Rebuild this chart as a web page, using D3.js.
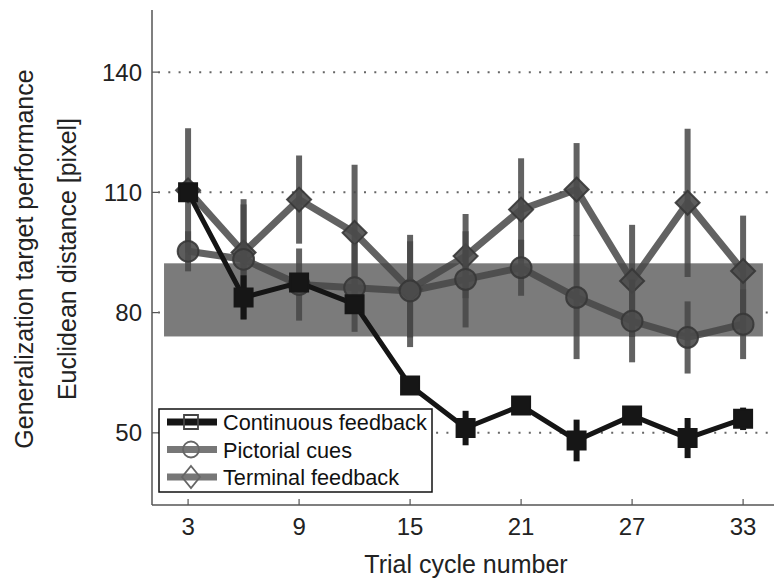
<!doctype html>
<html lang="en">
<head>
    <meta charset="UTF-8">
    <title>Generalization target performance</title>
    <style>
        html, body { margin: 0; padding: 0; background: #fff; }
        svg { display: block; font-family: "Liberation Sans", Arial, sans-serif; }
    </style>
</head>
<body>
<svg id="chart" width="774" height="580"></svg>

<script src="https://cdn.jsdelivr.net/npm/d3@7"></script>
<script>
  // values
  const cycles = [3, 6, 9, 12, 15, 18, 21, 24, 27, 30, 33]
  const xTicks = [3, 9, 15, 21, 27, 33]
  const yTicks = [50, 80, 110, 140]

  const continuousMean = [110, 83.8, 87.5, 82.1, 61.8, 51.2, 56.8, 48.1, 54.3, 48.7, 53.5]
  const continuousErr  = [1.5, 5.5, 2, 2, 1.5, 4.3, 2, 5.2, 2, 5, 2.8]
  const pictorialMean  = [95.3, 93.3, 87, 86.2, 85.4, 88.3, 91.2, 83.8, 77.9, 73.8, 77.1]
  const pictorialErr   = [5, 15, 9, 11, 14, 12, 7, 15.4, 10.3, 9, 8.7]
  const terminalMean   = [110.5, 95, 108.2, 99.9, 85.8, 94.1, 105.7, 110.7, 87.9, 107.4, 90.4]
  const terminalErr    = [15.5, 12, 11, 17, 12, 10.5, 12.8, 11.6, 14, 18.5, 13.8]
  const bandRange = [74.05, 92.3]      // shaded reference band
  const bandCycles = [1.7, 34.07]

  const seriesNames = ['Continuous feedback', 'Pictorial cues', 'Terminal feedback']

  const svg = d3.select('#chart')
  const x = d3.scaleLinear().domain([1.05, 34.67]).range([152, 774])
  const y = d3.scaleLinear().domain([32, 155.5]).range([505, 10])

  const grayLine = 'rgba(70,70,70,0.85)'

  // dotted grid
  svg.append('g').selectAll('line').data(yTicks).join('line')
    .attr('x1', x.range()[0] + 6).attr('x2', 774)
    .attr('y1', d => y(d)).attr('y2', d => y(d))
    .attr('stroke', '#666').attr('stroke-width', 2)
    .attr('stroke-dasharray', '2,8.3')

  // band
  svg.append('rect')
    .attr('x', x(bandCycles[0])).attr('width', x(bandCycles[1]) - x(bandCycles[0]))
    .attr('y', y(bandRange[1])).attr('height', y(bandRange[0]) - y(bandRange[1]))
    .attr('fill', '#7b7b7b')

  function drawSeries(mean, err, color, lineW, marker) {
    const g = svg.append('g')
    const pts = cycles.map((c, i) => ({ c, m: mean[i], e: err[i] }))
    g.selectAll('.err').data(pts).join('line')
      .attr('x1', d => x(d.c)).attr('x2', d => x(d.c))
      .attr('y1', d => y(d.m - d.e)).attr('y2', d => y(d.m + d.e))
      .attr('stroke', color).attr('stroke-width', 6)
    g.append('path')
      .attr('d', d3.line().x(d => x(d.c)).y(d => y(d.m))(pts))
      .attr('fill', 'none').attr('stroke', color).attr('stroke-width', lineW)
      .attr('stroke-linejoin', 'round')
    g.selectAll('.mk').data(pts).join('path')
      .attr('transform', d => `translate(${x(d.c)},${y(d.m)})`)
      .attr('d', marker.path)
      .attr('fill', marker.fill).attr('stroke', marker.stroke).attr('stroke-width', 2)
  }

  const circleMk = { path: d3.symbol(d3.symbolCircle, 340)(), fill: 'rgba(75,75,75,0.9)', stroke: 'rgba(55,55,55,0.9)' }
  const diamondMk = { path: 'M0,-12L12,0L0,12L-12,0Z', fill: 'rgba(75,75,75,0.9)', stroke: 'rgba(55,55,55,0.9)' }
  const squareMk = { path: 'M-9,-9H9V9H-9Z', fill: '#161616', stroke: '#161616' }

  drawSeries(terminalMean, terminalErr, grayLine, 7, diamondMk)
  drawSeries(pictorialMean, pictorialErr, grayLine, 7, circleMk)
  drawSeries(continuousMean, continuousErr, '#151515', 5, squareMk)

  // axes
  const axisColor = '#555'
  svg.append('line').attr('x1', 152).attr('x2', 152).attr('y1', 10).attr('y2', 505)
    .attr('stroke', axisColor).attr('stroke-width', 1.5)
  svg.append('line').attr('x1', 152).attr('x2', 774).attr('y1', 505).attr('y2', 505)
    .attr('stroke', axisColor).attr('stroke-width', 1.5)

  svg.append('g').selectAll('line').data(xTicks).join('line')
    .attr('x1', d => x(d)).attr('x2', d => x(d)).attr('y1', 505).attr('y2', 499)
    .attr('stroke', axisColor).attr('stroke-width', 1.2)
  svg.append('g').selectAll('line').data(yTicks).join('line')
    .attr('x1', 152).attr('x2', 158).attr('y1', d => y(d)).attr('y2', d => y(d))
    .attr('stroke', axisColor).attr('stroke-width', 1.2)

  svg.append('g').selectAll('text').data(xTicks).join('text')
    .attr('x', d => x(d)).attr('y', 535).attr('text-anchor', 'middle')
    .attr('font-size', 24).attr('fill', '#222').text(d => d)
  svg.append('g').selectAll('text').data(yTicks).join('text')
    .attr('x', 142).attr('y', d => y(d) + 8.5).attr('text-anchor', 'end')
    .attr('font-size', 24).attr('fill', '#222').text(d => d)

  svg.append('text').attr('x', 466).attr('y', 573).attr('text-anchor', 'middle')
    .attr('font-size', 25).attr('fill', '#222').text('Trial cycle number')
  svg.append('text').attr('transform', 'translate(33,259) rotate(-90)').attr('text-anchor', 'middle')
    .attr('font-size', 25).attr('fill', '#222').text('Generalization target performance')
  svg.append('text').attr('transform', 'translate(76,259) rotate(-90)').attr('text-anchor', 'middle')
    .attr('font-size', 25).attr('fill', '#222').text('Euclidean distance [pixel]')

  // legend
  const lg = svg.append('g')
  lg.append('rect').attr('x', 159).attr('y', 409).attr('width', 273).attr('height', 83)
    .attr('fill', '#fff').attr('stroke', '#111').attr('stroke-width', 1.5)
  const legendRows = [
    { name: seriesNames[0], color: '#151515', mk: 'M-7,-7H7V7H-7Z', mkStroke: '#444' },
    { name: seriesNames[1], color: '#777', mk: d3.symbol(d3.symbolCircle, 200)(), mkStroke: '#666' },
    { name: seriesNames[2], color: '#777', mk: 'M0,-11L9,0L0,11L-9,0Z', mkStroke: '#666' }
  ]
  legendRows.forEach((r, i) => {
    const cy = 422 + i * 27.5
    lg.append('line').attr('x1', 167).attr('x2', 217).attr('y1', cy).attr('y2', cy)
      .attr('stroke', r.color).attr('stroke-width', 7)
    lg.append('path').attr('transform', `translate(191,${cy})`).attr('d', r.mk)
      .attr('fill', 'none').attr('stroke', r.mkStroke).attr('stroke-width', 1.8)
    lg.append('text').attr('x', 223).attr('y', cy + 8).attr('font-size', 21.7)
      .attr('fill', '#111').text(r.name)
  })
</script>
</body>
</html>
